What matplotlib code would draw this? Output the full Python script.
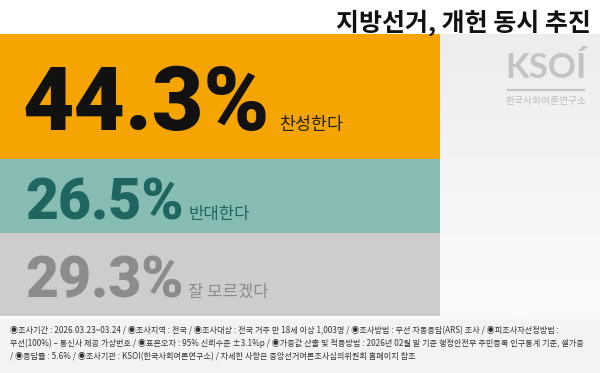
import matplotlib
matplotlib.use("Agg")
import matplotlib.pyplot as plt
from matplotlib.colors import LinearSegmentedColormap
import numpy as np

# data
labels = ["찬성한다", "반대한다", "잘 모르겠다"]
values = [44.3, 26.5, 29.3]
title = "지방선거, 개헌 동시 추진"
notes = [
    "◉조사기간 : 2026.03.23~03.24 / ◉조사지역 : 전국 / ◉조사대상 : 전국 거주 만 18세 이상 1,003명 / ◉조사방법 : 무선 자동응답(ARS) 조사 / ◉피조사자선정방법 :",
    "무선(100%) – 통신사 제공 가상번호 / ◉표본오차 : 95% 신뢰수준 ±3.1%p / ◉가중값 산출 및 적용방법 : 2026년 02월 말 기준 행정안전부 주민등록 인구통계 기준, 셀가중",
    "/ ◉응답률 : 5.6% / ◉조사기관 : KSOI(한국사회여론연구소) / 자세한 사항은 중앙선거여론조사심의위원회 홈페이지 참조",
]

BAR_COLORS = ["#F5A400", "#86BCB3", "#CDCDCD"]
NUM_COLORS = ["#111111", "#1F6661", "#8C8C8C"]
KR = ["Noto Sans CJK KR", "DejaVu Sans"]
NUM_FONT = ["Roboto", "DejaVu Sans"]

W, H = 600, 373
fig = plt.figure(figsize=(W / 100, H / 100), dpi=100)
fig.patch.set_facecolor("white")

# background layer in pixel coords
bg = fig.add_axes([0, 0, 1, 1], zorder=0)
grad = np.linspace(0, 1, 100).reshape(-1, 1)
panel_cmap = LinearSegmentedColormap.from_list("panel", ["#EDEDED", "#FBFBFB"])
bg.imshow(grad, extent=(440, 600, 318, 34), cmap=panel_cmap, aspect="auto", zorder=0)
bg.add_patch(plt.Rectangle((0, 319), W, H - 319, color="#F3F3F3", zorder=0))
bg.set_xlim(0, W)
bg.set_ylim(H, 0)
bg.axis("off")

# stacked bands
top, bottom = 34, 316
ax = fig.add_axes([0, 1 - bottom / H, 440 / W, (bottom - top) / H], zorder=1)
starts = np.concatenate([[0], np.cumsum(values)[:-1]])
ax.bar([0] * len(values), values, bottom=starts, width=1.0, color=BAR_COLORS, align="edge")
ax.set_xlim(0, 1)
ax.set_ylim(sum(values), 0)
ax.axis("off")

# text layer
tx = fig.add_axes([0, 0, 1, 1], zorder=2)
tx.set_xlim(0, W)
tx.set_ylim(H, 0)
tx.axis("off")
tx.patch.set_alpha(0)

tx.text(591, 31, title, ha="right", va="baseline", fontsize=18, fontweight="heavy",
        family=KR, color="#111111")

num_pos = [(22, 130, 64), (25, 219, 41), (25, 297, 41)]
lab_pos = [(279, 130, 12.5), (188, 219, 12), (188, 297, 12)]
for i, v in enumerate(values):
    x, y, fs = num_pos[i]
    tx.text(x, y, f"{v}%", ha="left", va="baseline", fontsize=fs, fontweight="black",
            family=NUM_FONT, color=NUM_COLORS[i])
    lx, ly, lfs = lab_pos[i]
    tx.text(lx, ly, labels[i], ha="left", va="baseline", fontsize=lfs,
            family=KR, color=NUM_COLORS[i] if i else "#222222")

# logo
tx.text(546, 78, "KSOÍ", ha="center", va="baseline", fontsize=25, family=["Lato", "DejaVu Sans"],
        color="#C4C4C4", fontweight="bold")
tx.plot([508, 584], [90, 90], color="#C4C4C4", lw=1.5)
tx.text(546, 104, "한국사회여론연구소", ha="center", va="baseline", fontsize=7, family=KR, color="#BDBDBD")

# footer notes
for i, line in enumerate(notes):
    tx.text(10, 333 + i * 13, line, ha="left", va="baseline", fontsize=5.85, family=KR, color="#333333")

fig.savefig("out.png", dpi=100, facecolor="white")
